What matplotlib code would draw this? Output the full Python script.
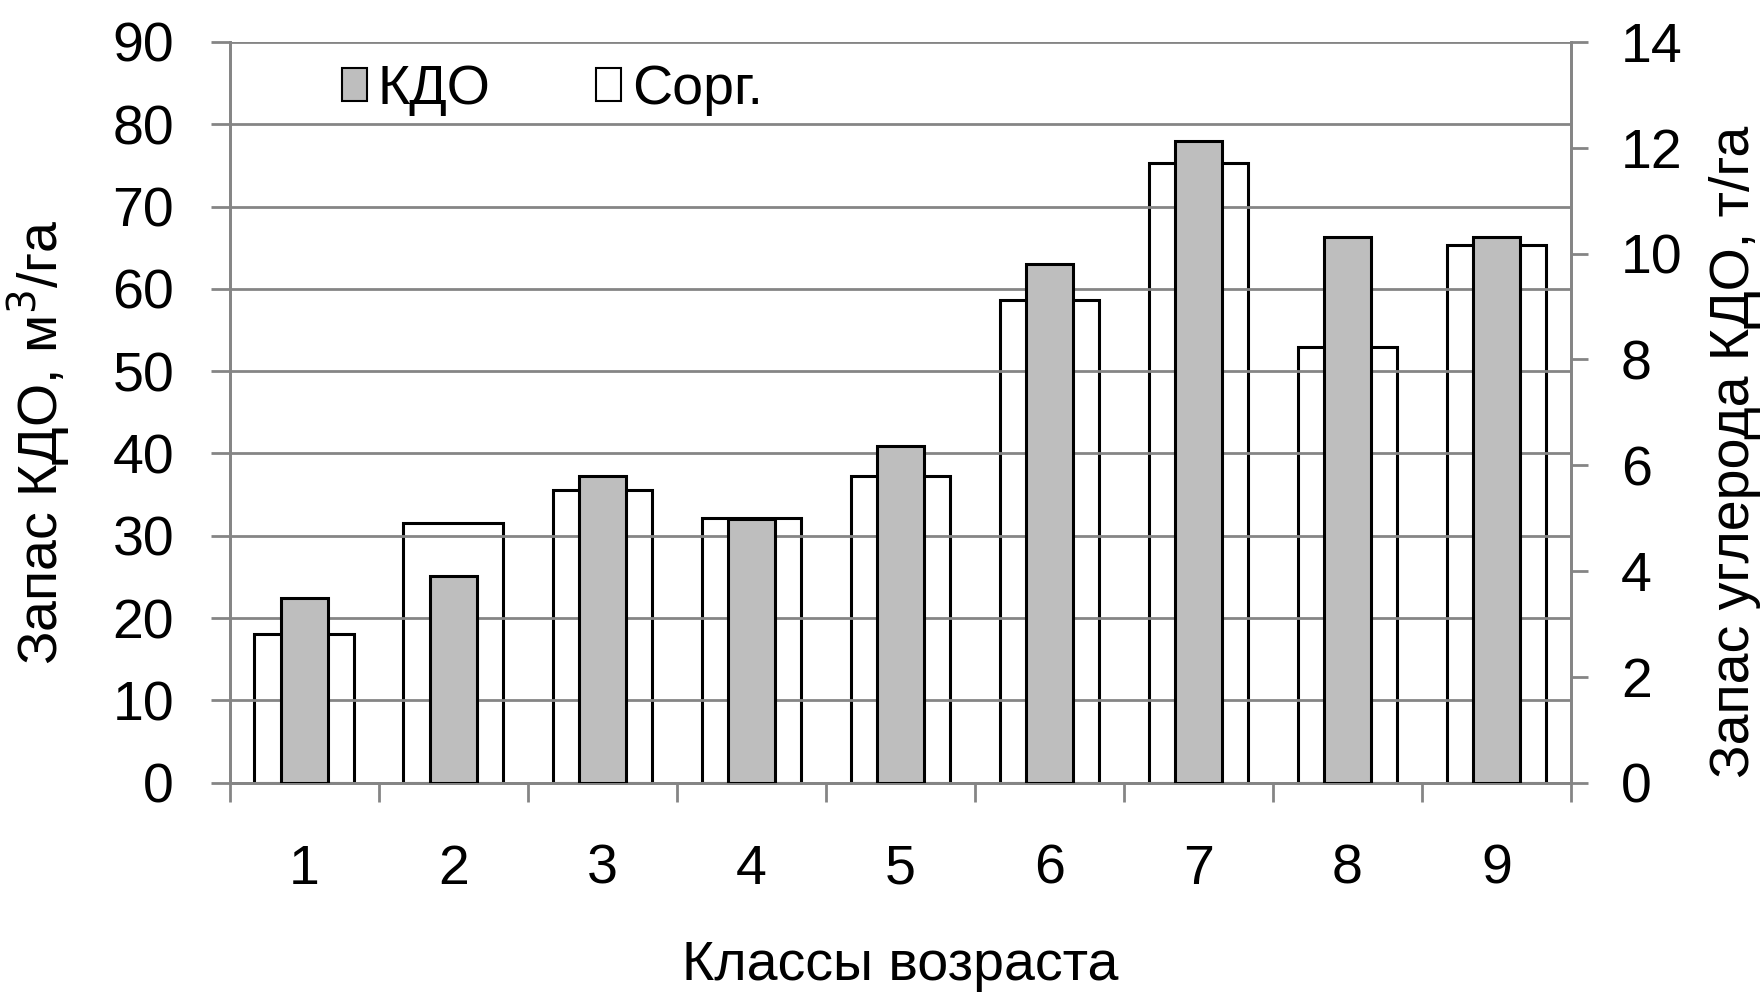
import numpy as np
import matplotlib.pyplot as plt
from matplotlib.patches import Patch

plt.rcParams['font.family'] = ['Liberation Sans', 'DejaVu Sans']

classes = ['1', '2', '3', '4', '5', '6', '7', '8', '9']
kdo = [22.4, 25.1, 37.3, 32.0, 40.9, 63.0, 78.0, 66.3, 66.3]      # м3/га, left axis
corg = [2.82, 4.9, 5.53, 5.0, 5.8, 9.12, 11.72, 8.24, 10.16]     # т/га, right axis

grid_col = '#858585'
fs = 40

fig = plt.figure(figsize=(17.61, 9.99), dpi=100)
ax = fig.add_axes([0.1304, 0.2165, 0.7617, 0.7415])
ax2 = ax.twinx()

x = np.arange(1, len(classes) + 1)

# white bars on the right axis, drawn underneath
ax2.bar(x, corg, width=0.667, color='white', edgecolor='black', linewidth=2.2, zorder=2)
ax2.set_ylim(0, 14)
ax2.set_yticks(range(0, 15, 2))

# grey bars on the left axis, on top
ax.set_zorder(ax2.get_zorder() + 1)
ax.patch.set_visible(False)
ax.bar(x, kdo, width=0.316, color='#bebebe', edgecolor='black', linewidth=2.2, zorder=3)
ax.set_ylim(0, 90)
ax.set_yticks(range(0, 91, 10))
ax.set_axisbelow(True)
ax.yaxis.grid(True, color=grid_col, linewidth=2)

ax.set_xlim(0.5, len(classes) + 0.5)
ax.set_xticks(np.arange(0.5, len(classes) + 1, 1))
ax.set_xticklabels([])
ax.set_xticks(x, minor=True)
ax.set_xticklabels(classes, minor=True)

for a in (ax, ax2):
    a.spines['top'].set_visible(False)
    for s in ('left', 'right', 'bottom'):
        a.spines[s].set_color(grid_col)
        a.spines[s].set_linewidth(2)

ax.tick_params(axis='y', direction='out', length=14, width=2, color=grid_col,
               labelsize=fs, pad=26)
ax.tick_params(axis='x', which='major', direction='out', length=14, width=2,
               color=grid_col)
ax.tick_params(axis='x', which='minor', length=0, labelsize=fs, pad=44)
ax2.tick_params(axis='y', direction='out', length=12, width=2, color=grid_col,
                labelsize=fs, pad=24)

ax.set_xlabel('Классы возраста', fontsize=fs, labelpad=32)
ax.set_ylabel('Запас КДО, м$^3$/га', fontsize=fs)
ax.yaxis.set_label_coords(-0.117, 0.46)
ax2.set_ylabel('Запас углерода КДО, т/га', fontsize=fs)
ax2.yaxis.set_label_coords(1.103, 0.446)

handles = [Patch(facecolor='#bebebe', edgecolor='black', linewidth=1.5, label='КДО'),
           Patch(facecolor='white', edgecolor='black', linewidth=1.5, label='Сорг.')]
ax.legend(handles=handles, loc='upper left', bbox_to_anchor=(0.067, 1.0), ncol=2,
          frameon=False, fontsize=fs, handlelength=0.45, handleheight=0.55,
          handletextpad=0.2, columnspacing=1.9, borderaxespad=0)

fig.savefig('out.png', dpi=100, facecolor='white')
